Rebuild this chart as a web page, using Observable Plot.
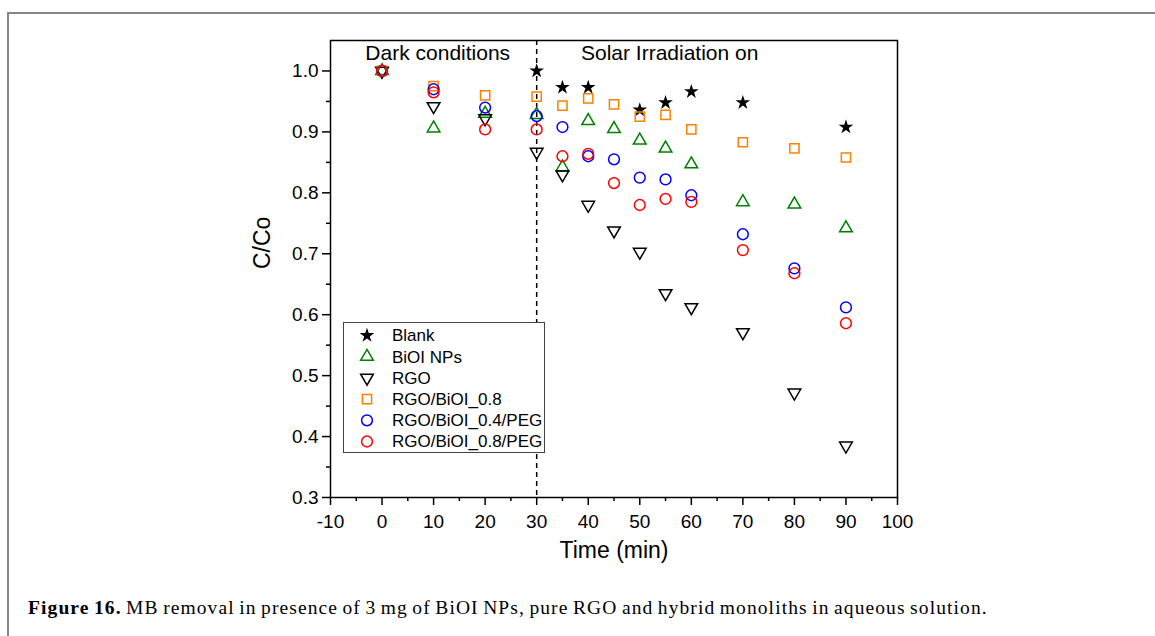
<!DOCTYPE html>
<html><head><meta charset="utf-8">
<script src="https://cdn.jsdelivr.net/npm/d3@7"></script>
<script src="https://cdn.jsdelivr.net/npm/@observablehq/plot@0.6"></script>
<style>
body{margin:0;background:#fff;}
#wrap{position:relative;width:1155px;height:636px;overflow:hidden;font-family:"Liberation Sans",Arial,sans-serif;background:#fff;}
#border{position:absolute;left:7px;top:12px;width:1300px;height:800px;border-left:2px solid #858585;border-top:2px solid #858585;}
#chart{position:absolute;left:0;top:0;}
#legend{position:absolute;left:343px;top:322px;width:202px;height:131px;}
#caption{position:absolute;left:28px;top:597px;font-family:"Liberation Serif","Times New Roman",serif;font-size:19.5px;letter-spacing:1.1px;word-spacing:-1.5px;line-height:22px;white-space:nowrap;}
</style></head><body>
<div id="wrap"><div id="border"></div><div id="chart"></div><div id="legend"></div>
<div id="caption"><b>Figure 16.</b> MB removal in presence of 3 mg of BiOI NPs, pure RGO and hybrid monoliths in aqueous solution.</div></div>
<script>
const times = [0, 10, 20, 30, 35, 40, 45, 50, 55, 60, 70, 80, 90];
const blank = [null, null, null, 1.0, 0.973, 0.973, null, 0.936, 0.948, 0.966, 0.948, null, 0.908];
const bioiNPs = [1.0, 0.906, 0.93, 0.928, 0.842, 0.918, 0.905, 0.886, 0.873, 0.847, 0.785, 0.781, 0.742];
const rgo = [1.0, 0.942, 0.922, 0.867, 0.83, 0.78, 0.738, 0.703, 0.635, 0.612, 0.571, 0.472, 0.385];
const rgoBioi08 = [1.0, 0.975, 0.96, 0.958, 0.943, 0.955, 0.945, 0.925, 0.928, 0.904, 0.883, 0.873, 0.858];
const rgoBioi04Peg = [1.0, 0.97, 0.94, 0.926, 0.908, 0.86, 0.855, 0.825, 0.822, 0.796, 0.732, 0.676, 0.612];
const rgoBioi08Peg = [1.0, 0.965, 0.904, 0.904, 0.86, 0.864, 0.816, 0.78, 0.79, 0.785, 0.706, 0.668, 0.586];

const seriesNames = ["Blank", "BiOI NPs", "RGO", "RGO/BiOI_0.8", "RGO/BiOI_0.4/PEG", "RGO/BiOI_0.8/PEG"];
const seriesValues = [blank, bioiNPs, rgo, rgoBioi08, rgoBioi04Peg, rgoBioi08Peg];

const xTicks = [-10, 0, 10, 20, 30, 40, 50, 60, 70, 80, 90, 100];
const xMinorTicks = [-5, 5, 15, 25, 35, 45, 55, 65, 75, 85, 95];
const yTicks = [0.3, 0.4, 0.5, 0.6, 0.7, 0.8, 0.9, 1.0];
const yMinorTicks = [0.35, 0.45, 0.55, 0.65, 0.75, 0.85, 0.95];
const annotations = ["Dark conditions", "Solar Irradiation on"];

const styles = [
  {symbol: "star", fill: "#000000", stroke: "none", r: 4.6, rotate: 0},
  {symbol: "triangle", fill: "none", stroke: "#008000", r: 4.7, rotate: 0},
  {symbol: "triangle", fill: "none", stroke: "#000000", r: 4.7, rotate: 180},
  {symbol: "square", fill: "none", stroke: "#ff8000", r: 5.2, rotate: 0},
  {symbol: "circle", fill: "none", stroke: "#0000ff", r: 5.4, rotate: 0},
  {symbol: "circle", fill: "none", stroke: "#ff0000", r: 5.4, rotate: 0}
];

const rows = [];
seriesNames.forEach((name, si) => {
  times.forEach((t, i) => {
    const v = seriesValues[si][i];
    if (v != null) rows.push({series: name, time: t, value: v});
  });
});

const dotMarks = seriesNames.map((name, si) => {
  const s = styles[si];
  return Plot.dot(rows.filter(d => d.series === name), {
    x: "time", y: "value", symbol: s.symbol, r: s.r,
    fill: s.fill, stroke: s.stroke, strokeWidth: 1.5, rotate: s.rotate
  });
});

const chart = Plot.plot({
  width: 1155, height: 580,
  marginLeft: 330, marginRight: 258, marginTop: 40, marginBottom: 83,
  style: {fontFamily: "Liberation Sans, Arial, sans-serif", color: "#000", background: "transparent", overflow: "visible"},
  x: {domain: [-10, 100]},
  y: {domain: [0.3, 1.05]},
  marks: [
    Plot.ruleX([30], {strokeDasharray: "5,4", strokeWidth: 1.5, stroke: "#000"}),
    ...dotMarks,
    Plot.text([annotations[0]], {x: 10.8, y: 1.029, text: d => d, fontSize: 21, fill: "#000"}),
    Plot.text([annotations[1]], {x: 55.8, y: 1.029, text: d => d, fontSize: 21, fill: "#000"}),
    Plot.axisX(xTicks, {tickSize: 8, tickPadding: 9, fontSize: 19, strokeWidth: 1.5, tickFormat: d => String(d), label: null}),
    Plot.axisX(xMinorTicks, {tickSize: 4, strokeWidth: 1.5, tickFormat: () => "", label: null}),
    Plot.axisY(yTicks, {tickSize: 8, tickPadding: 4, fontSize: 19, strokeWidth: 1.5, tickFormat: d3.format(".1f"), label: null}),
    Plot.axisY(yMinorTicks, {tickSize: 4, strokeWidth: 1.5, tickFormat: () => "", label: null}),
    Plot.text(["C/Co"], {frameAnchor: "left", dx: -68, rotate: -90, fontSize: 23, text: d => d, fill: "#000"}),
    Plot.text(["Time (min)"], {frameAnchor: "bottom", dy: 60, fontSize: 23, text: d => d, fill: "#000"}),
    Plot.frame({stroke: "#000", strokeWidth: 1.5})
  ]
});
document.getElementById("chart").appendChild(chart);

// legend
const lw = 202, lh = 131;
const leg = d3.select("#legend").append("svg").attr("width", lw).attr("height", lh)
  .style("font-family", "Liberation Sans, Arial, sans-serif");
leg.append("rect").attr("x", 0.5).attr("y", 0.5).attr("width", lw - 1).attr("height", lh - 1)
  .attr("fill", "#fff").attr("stroke", "#444").attr("stroke-width", 1);
const symMap = {star: d3.symbolStar, triangle: d3.symbolTriangle, square: d3.symbolSquare, circle: d3.symbolCircle};
seriesNames.forEach((name, i) => {
  const s = styles[i];
  const cy = 13.5 + i * 21.2;
  leg.append("path")
    .attr("d", d3.symbol(symMap[s.symbol], Math.PI * s.r * s.r)())
    .attr("transform", `translate(24,${cy}) rotate(${s.rotate})`)
    .attr("fill", s.fill).attr("stroke", s.stroke).attr("stroke-width", 1.5);
  leg.append("text").attr("x", 49).attr("y", cy).attr("dy", "0.35em")
    .attr("font-size", 17).attr("fill", "#000").text(name);
});
</script>
</body></html>
